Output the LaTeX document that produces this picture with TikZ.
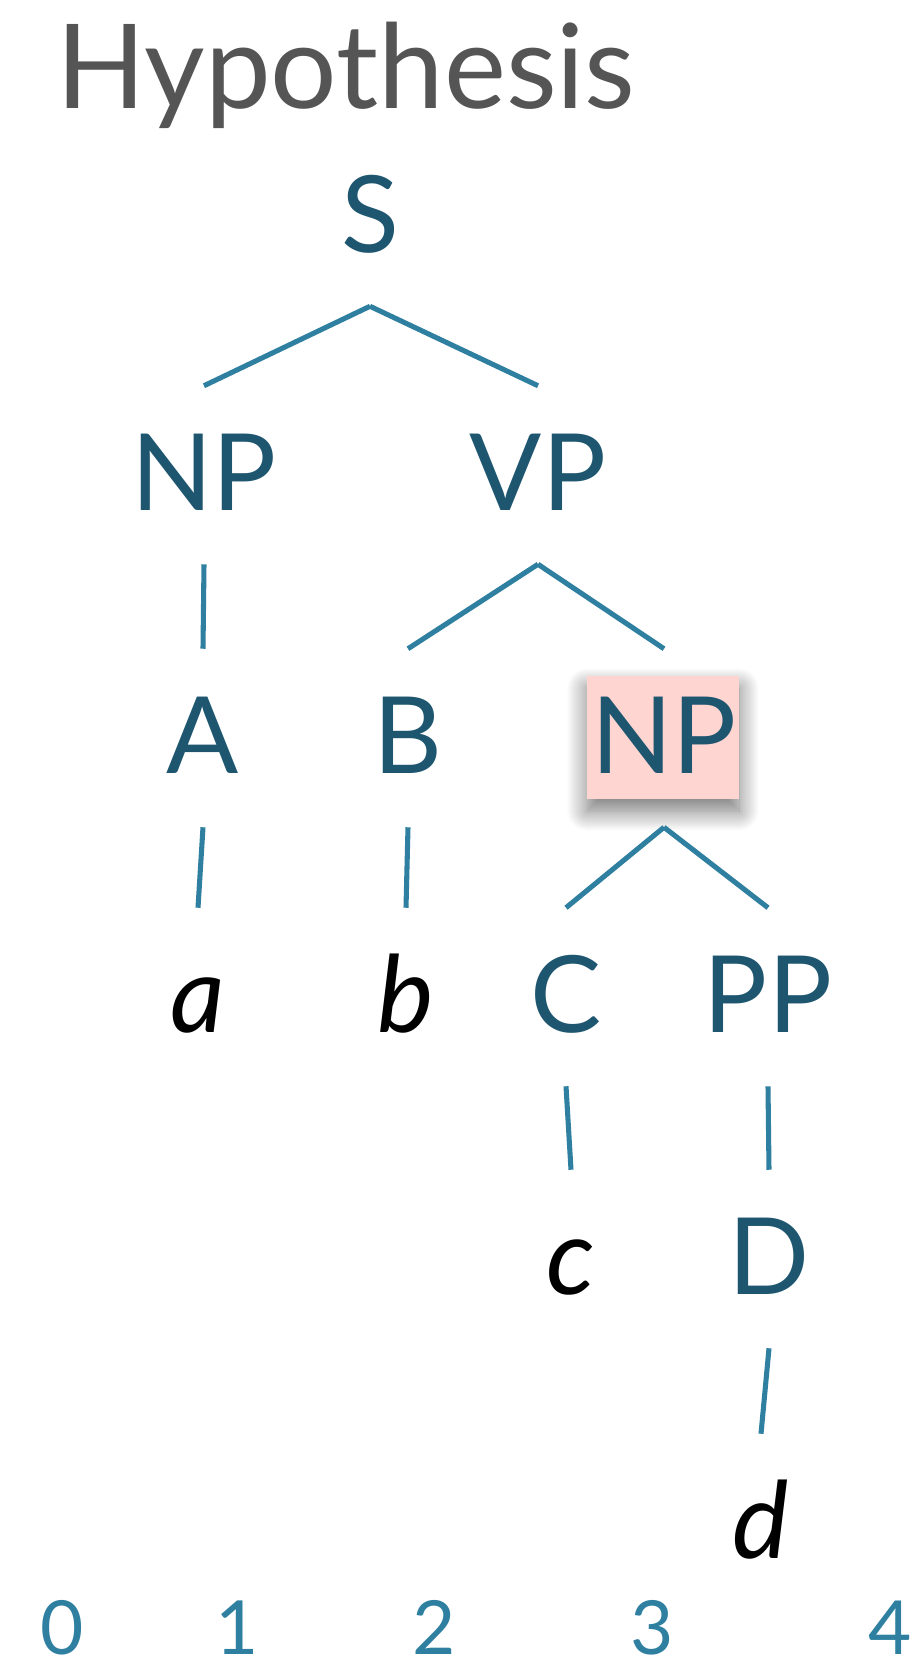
\documentclass[tikz,border=0pt]{standalone}
\usepackage{fontspec}
\setmainfont{Lato}
\usetikzlibrary{shadows.blur}
\definecolor{labelc}{HTML}{1E5670}
\definecolor{edgec}{HTML}{2E7FA0}
\definecolor{titlec}{HTML}{555555}
\definecolor{hlfill}{HTML}{FFD5D1}
\begin{document}
\begin{tikzpicture}[x=0.75pt,y=-0.75pt,
  cat/.style={anchor=base, inner sep=0pt, text height=93pt, text depth=40.5pt,
    text=labelc, font=\fontsize{80}{90}\selectfont},
  leaf/.style={cat, text=black, font=\fontsize{80}{90}\selectfont\itshape},
  edge/.style={draw=edgec, line width=3.8pt},
  index/.style={anchor=base, inner sep=0pt, text depth=0pt, text=edgec,
    font=\fontsize{56}{62}\selectfont},
  highlight/.style={fill=hlfill, inner sep=0pt,
    blur shadow={shadow xshift=0pt, shadow yshift=-9pt, shadow blur radius=15pt,
      shadow blur steps=20, shadow opacity=55}}]
\useasboundingbox (0,0) rectangle (921,1667);

% title
\node[anchor=base west, inner sep=0pt, text=titlec, font=\fontsize{88}{96}\selectfont]
  (title) at (56,108.5) {Hypothesis};

% highlighted constituent background
\node[highlight, minimum width=114pt, minimum height=92.25pt] (hl) at (663,737.5) {};

% tree nodes
\node[cat] (S)   at (370,252) {S};
\node[cat] (NP1) at (204,510) {NP};
\node[cat] (VP)  at (538,510) {VP};
\node[cat] (A)   at (203,773) {A};
\node[cat] (B)   at (408,773) {B};
\node[cat] (NP2) at (664,773) {NP};
\node[leaf] (a)  at (198,1032) {a};
\node[leaf] (b)  at (406,1032) {b};
\node[cat] (C)   at (566,1032) {C};
\node[cat] (PP)  at (768,1032) {PP};
\node[leaf] (c)  at (571,1294) {c};
\node[cat] (D)   at (769,1294) {D};
\node[leaf] (d)  at (761,1558) {d};

% tree edges
\draw[edge] (S.south) -- (NP1.north);
\draw[edge] (S.south) -- (VP.north);
\draw[edge] (NP1.south) -- (A.north);
\draw[edge] (VP.south) -- (B.north);
\draw[edge] (VP.south) -- (NP2.north);
\draw[edge] (A.south) -- (a.north);
\draw[edge] (B.south) -- (b.north);
\draw[edge] (NP2.south) -- (C.north);
\draw[edge] (NP2.south) -- (PP.north);
\draw[edge] (C.south) -- (c.north);
\draw[edge] (PP.south) -- (D.north);
\draw[edge] (D.south) -- (d.north);

% string positions
\node[index] (p0) at (62,1654) {0};
\node[index] (p1) at (237,1654) {1};
\node[index] (p2) at (434,1654) {2};
\node[index] (p3) at (652,1654) {3};
\node[index] (p4) at (890,1654) {4};
\end{tikzpicture}
\end{document}
